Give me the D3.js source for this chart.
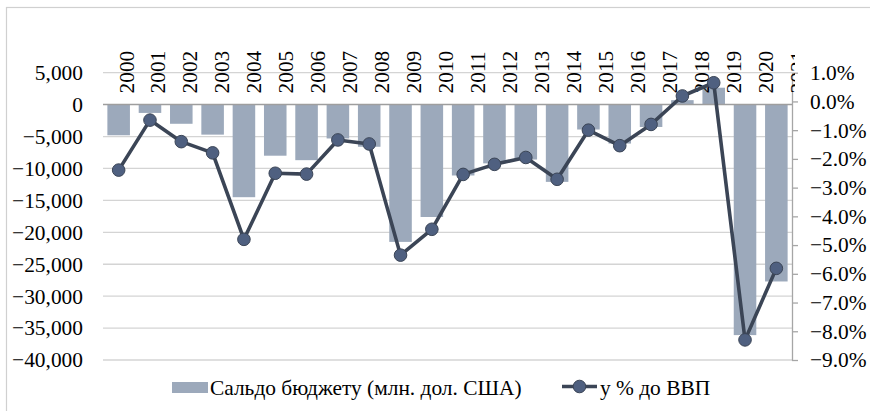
<!DOCTYPE html>
<html>
<head>
<meta charset="utf-8">
<script src="https://cdn.jsdelivr.net/npm/d3@7"></script>
<style>
  body { margin: 0; background: #fff; }
  text { font-family: "Liberation Serif", "Times New Roman", serif; fill: #000; }
</style>
</head>
<body>
<div id="viz"></div>
<script>
// chart data
var years = ["2000","2001","2002","2003","2004","2005","2006","2007","2008","2009","2010",
             "2011","2012","2013","2014","2015","2016","2017","2018","2019","2020","2021"];
var balance = [-4800, -1300, -3000, -4700, -14500, -8000, -8700, -5300, -6600, -21500, -17600,
               -11100, -9200, -8600, -12100, -3900, -6100, -3500, 700, 2650, -36100, -27700];
var pctGdp = [-2.39, -0.65, -1.40, -1.79, -4.80, -2.50, -2.53, -1.34, -1.48, -5.35, -4.45,
              -2.54, -2.19, -1.95, -2.71, -1.00, -1.54, -0.80, 0.19, 0.65, -8.30, -5.81];
var leftTicks = [5000, 0, -5000, -10000, -15000, -20000, -25000, -30000, -35000, -40000];
var rightTicks = [1, 0, -1, -2, -3, -4, -5, -6, -7, -8, -9];
var barName = "Сальдо бюджету (млн. дол. США)";
var lineName = "у % до ВВП";

var width = 870, height = 411;
var plotLeft = 103, plotRight = 792, plotTop = 72.7, plotBottom = 360;
var barColor = "#9CA9BB", lineColor = "#3B4556", markerFill = "#4F6080";
var fontSize = "21.4px";

var svg = d3.select("#viz").append("svg")
  .attr("width", width)
  .attr("height", height);

// frame
svg.append("rect")
  .attr("x", 6.5).attr("y", 7.5)
  .attr("width", width).attr("height", height)
  .attr("fill", "none").attr("stroke", "#D0D0D0").attr("stroke-width", 1.2);

var x = d3.scaleBand().domain(years).range([plotLeft, plotRight])
  .paddingInner(0.28).paddingOuter(0.14);
var xLabel = d3.scalePoint().domain(years).range([126, 797.5]);
var yL = d3.scaleLinear().domain([-40000, 5000]).range([plotBottom, plotTop]);
var yR = d3.scaleLinear().domain([-9, 1]).range([plotBottom, plotTop]);

// gridlines
svg.append("g").selectAll("line")
  .data(leftTicks.filter(function (d) { return d !== 0; }))
  .enter().append("line")
  .attr("x1", plotLeft).attr("x2", plotRight)
  .attr("y1", function (d) { return yL(d); })
  .attr("y2", function (d) { return yL(d); })
  .attr("stroke", "#D4D4D4").attr("stroke-width", 1.3);

// bars
svg.append("g").selectAll("rect")
  .data(balance)
  .enter().append("rect")
  .attr("x", function (d, i) { return x(years[i]); })
  .attr("width", x.bandwidth())
  .attr("y", function (d) { return d >= 0 ? yL(d) : yL(0); })
  .attr("height", function (d) { return Math.abs(yL(d) - yL(0)); })
  .attr("fill", barColor);

// zero (category) axis line
svg.append("line")
  .attr("x1", plotLeft).attr("x2", plotRight)
  .attr("y1", yL(0)).attr("y2", yL(0))
  .attr("stroke", "#9E9E9E").attr("stroke-width", 1.5);

// left axis labels
var axL = svg.append("g")
  .attr("transform", "translate(" + (plotLeft - 20) + ",0)")
  .call(d3.axisLeft(yL).tickValues(leftTicks).tickSize(0).tickPadding(0)
    .tickFormat(d3.format(",")));
axL.select(".domain").remove();
axL.selectAll("text")
  .style("font-family", "Liberation Serif, serif")
  .style("font-size", fontSize).attr("fill", "#000");

// right axis
var axR = svg.append("g")
  .attr("transform", "translate(" + plotRight + ",0)")
  .call(d3.axisRight(yR).tickValues(rightTicks).tickSize(6).tickPadding(12)
    .tickSizeOuter(0)
    .tickFormat(function (d) { return d3.format(".1f")(d) + "%"; }));
axR.select(".domain").attr("stroke", "#A6A6A6").attr("stroke-width", 1.3);
axR.selectAll(".tick line").attr("stroke", "#A6A6A6").attr("stroke-width", 1.3);
axR.selectAll("text")
  .style("font-family", "Liberation Serif, serif")
  .style("font-size", fontSize).attr("fill", "#000");

// year labels, clipped at the right
svg.append("clipPath").attr("id", "lblclip")
  .append("rect").attr("x", 0).attr("y", 0).attr("width", 795).attr("height", height);
svg.append("g").attr("clip-path", "url(#lblclip)")
  .selectAll("text")
  .data(years)
  .enter().append("text")
  .attr("transform", function (d) { return "translate(" + xLabel(d) + ",93.5) rotate(-90)"; })
  .attr("dy", "0.35em")
  .attr("text-anchor", "start")
  .style("font-size", fontSize)
  .text(function (d) { return d; });

// line series
var line = d3.line()
  .x(function (d, i) { return x(years[i]) + x.bandwidth() / 2; })
  .y(function (d) { return yR(d); });
svg.append("path")
  .datum(pctGdp)
  .attr("d", line)
  .attr("fill", "none")
  .attr("stroke", lineColor)
  .attr("stroke-width", 3.6)
  .attr("stroke-linejoin", "round");
svg.append("g").selectAll("circle")
  .data(pctGdp)
  .enter().append("circle")
  .attr("cx", function (d, i) { return x(years[i]) + x.bandwidth() / 2; })
  .attr("cy", function (d) { return yR(d); })
  .attr("r", 6.3)
  .attr("fill", markerFill)
  .attr("stroke", lineColor)
  .attr("stroke-width", 1);

// legend
var lg = svg.append("g");
lg.append("rect").attr("x", 172).attr("y", 382).attr("width", 36).attr("height", 11)
  .attr("fill", barColor);
lg.append("text").attr("x", 210).attr("y", 388).attr("dy", "0.35em")
  .style("font-size", fontSize).text(barName);
lg.append("line").attr("x1", 562).attr("x2", 597).attr("y1", 386.5).attr("y2", 386.5)
  .attr("stroke", lineColor).attr("stroke-width", 3.6);
lg.append("circle").attr("cx", 579.5).attr("cy", 386.5).attr("r", 6.3)
  .attr("fill", markerFill).attr("stroke", lineColor).attr("stroke-width", 1);
lg.append("text").attr("x", 600).attr("y", 388).attr("dy", "0.35em")
  .style("font-size", fontSize).text(lineName);
</script>
</body>
</html>
